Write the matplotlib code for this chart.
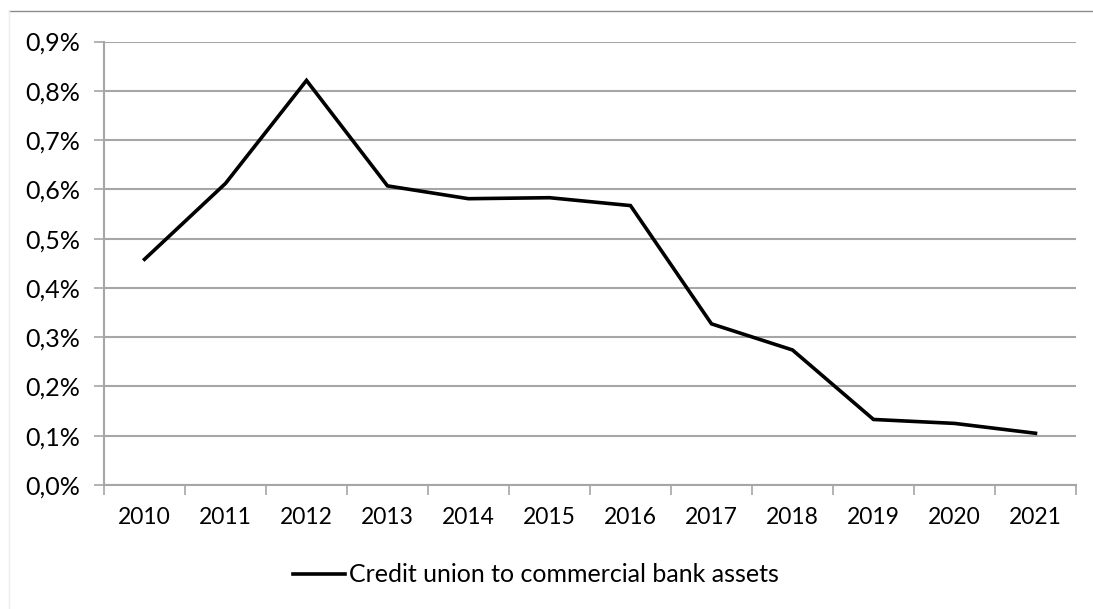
import matplotlib.pyplot as plt
from matplotlib.lines import Line2D
from matplotlib.ticker import FuncFormatter, FixedLocator

years = ["2010", "2011", "2012", "2013", "2014", "2015",
         "2016", "2017", "2018", "2019", "2020", "2021"]
ratio = [0.458, 0.612, 0.821, 0.607, 0.581, 0.583,
         0.567, 0.327, 0.274, 0.133, 0.125, 0.105]   # percent
series_name = "Credit union to commercial bank assets"

plt.rcParams['font.family'] = ['Lato', 'DejaVu Sans']
grey = '#a6a6a6'

W, H = 1093, 609
fig = plt.figure(figsize=(W / 100, H / 100), dpi=100)
ax = fig.add_axes([104 / W, 1 - 485 / H, (1076 - 104) / W, (485 - 41.5) / H])

x = list(range(len(years)))
ax.plot(x, ratio, color='black', lw=2.6, solid_joinstyle='miter')

ax.set_xlim(-0.5, len(years) - 0.5)
ax.set_ylim(0, 0.9)

# tick marks between categories, labels centred on categories
ax.xaxis.set_major_locator(FixedLocator([i - 0.5 for i in range(len(years) + 1)]))
ax.xaxis.set_minor_locator(FixedLocator(x))
ax.set_xticklabels([''] * (len(years) + 1))
ax.set_xticklabels(years, minor=True)
ax.tick_params(axis='x', which='major', length=7, width=1.2, color=grey)
ax.tick_params(axis='x', which='minor', length=0, pad=16, labelsize=16.5)

ax.set_yticks([i / 10 for i in range(10)])
ax.yaxis.set_major_formatter(FuncFormatter(lambda v, p: f"{v:.1f}%".replace('.', ',')))
ax.tick_params(axis='y', length=7, width=1.2, color=grey, pad=10, labelsize=18)

ax.grid(axis='y', color=grey, lw=1.5)
ax.set_axisbelow(True)
for s in ('top', 'right'):
    ax.spines[s].set_visible(False)
for s in ('left', 'bottom'):
    ax.spines[s].set_color(grey)
    ax.spines[s].set_linewidth(1.5)

# legend below the axis
fig.add_artist(Line2D([293 / W, 345 / W], [1 - 574 / H] * 2, color='black', lw=2.6))
fig.text(349 / W, 1 - 574 / H, series_name, fontsize=18, va='center', ha='left')

# chart area border
fig.add_artist(Line2D([9 / W, 1092 / W], [1 - 11 / H] * 2, color='#8c8c8c', lw=1))
fig.add_artist(Line2D([8.5 / W, 8.5 / W], [1 - 11 / H, 0], color='#ececec', lw=1))

fig.savefig('out.png', dpi=100)
